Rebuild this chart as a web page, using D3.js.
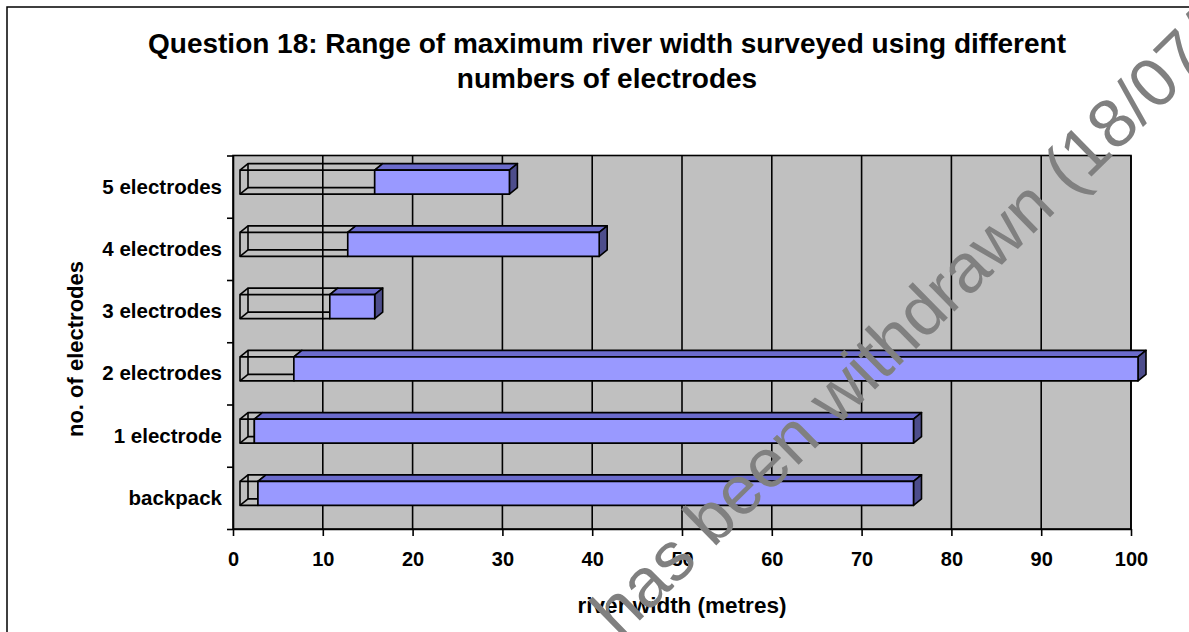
<!DOCTYPE HTML>
<html>
<head>
    <title>Question 18</title>
    <script type="text/javascript" src="https://cdn.jsdelivr.net/npm/d3@7"></script>
    <style>
        body { margin: 0; background-color: white; }
        .paint-board { background-color: white; }
        text { font-family: "Liberation Sans", Arial, sans-serif; font-weight: bold; fill: black; }
    </style>
</head>

<body>
    <div id="panel"></div>

    <script>
        // data
        var categories = ["5 electrodes", "4 electrodes", "3 electrodes", "2 electrodes", "1 electrode", "backpack"];
        var min_width = [15, 12, 10, 6, 1.6, 2];
        var max_width = [30, 40, 15, 100, 75, 75];
        var x_ticks = [0, 10, 20, 30, 40, 50, 60, 70, 80, 90, 100];
        var title_lines = ["Question 18: Range of maximum river width surveyed using different", "numbers of electrodes"];
        var x_title = "river width (metres)";
        var y_title = "no. of electrodes";
        var watermark = "has been withdrawn (18/07/";

        var width = 1189, height = 632;
        var depth_x = 8, depth_y = 6.5, front_shift = 7;
        var line_w = 1.6;

        var svgContainer = d3.select("#panel").append("svg")
                                                .attr("width", width)
                                                .attr("height", height)
                                                .attr("class", "paint-board");

        var x = d3.scaleLinear().domain([0, 100]).range([233, 1131]);
        var y = d3.scaleBand().domain(categories).range([155.5, 529]).padding(0);
        var y_edges = d3.scaleLinear().domain([0, categories.length]).range([529, 155.5]);

        function add_attributes(obj, attributes)
        {
            for(var key in attributes)
            {
                if(attributes.hasOwnProperty(key))
                    obj.attr(key, attributes[key]);
            }
        }

        // chart border
        svgContainer.append("rect")
                    .attr("x", 7).attr("y", 7)
                    .attr("width", 1300).attr("height", 800)
                    .attr("fill", "white").attr("stroke", "black").attr("stroke-width", 1.5);

        // title
        svgContainer.selectAll(".title").data(title_lines).enter()
                    .append("text")
                    .attr("class", "title")
                    .attr("x", 607)
                    .attr("y", function(d, i){ return 53 + i * 35; })
                    .attr("text-anchor", "middle")
                    .style("font-size", "28px")
                    .text(function(d){ return d; });

        // back wall
        svgContainer.append("rect")
                    .attr("x", x(0)).attr("y", y_edges(categories.length))
                    .attr("width", x(100) - x(0)).attr("height", y_edges(0) - y_edges(categories.length))
                    .attr("fill", "#c0c0c0").attr("stroke", "black").attr("stroke-width", line_w);

        // vertical gridlines
        svgContainer.selectAll(".grid").data(x_ticks.slice(1)).enter()
                    .append("line")
                    .attr("class", "grid")
                    .attr("x1", function(d){ return x(d); })
                    .attr("x2", function(d){ return x(d); })
                    .attr("y1", y_edges(categories.length))
                    .attr("y2", y_edges(0))
                    .attr("stroke", "black").attr("stroke-width", line_w);

        function draw_bar(i)
        {
            var c = y(categories[i]) + y.bandwidth() / 2;
            var top = c - 16.5, bottom = c + 7.5;
            var x0 = x(0) + front_shift;
            var x1 = x(min_width[i]) + front_shift;
            var x2 = x(max_width[i]) + front_shift;
            var g = svgContainer.append("g");
            var stroke = {"stroke": "black", "stroke-width": line_w, "stroke-linejoin": "round"};

            // empty box for the part below the minimum
            var box = g.append("g");
            add_attributes(box.append("rect").attr("x", x0 + depth_x).attr("y", top - depth_y)
                            .attr("width", x1 - x0).attr("height", bottom - top).attr("fill", "none"), stroke);
            add_attributes(box.append("rect").attr("x", x0).attr("y", top)
                            .attr("width", x1 - x0).attr("height", bottom - top).attr("fill", "none"), stroke);
            [[x0, top], [x1, top], [x0, bottom], [x1, bottom]].forEach(function(p){
                add_attributes(box.append("line").attr("x1", p[0]).attr("y1", p[1])
                                .attr("x2", p[0] + depth_x).attr("y2", p[1] - depth_y), stroke);
            });

            // coloured part from minimum to maximum
            add_attributes(g.append("polygon")
                .attr("points", [[x1, top], [x2, top], [x2 + depth_x, top - depth_y], [x1 + depth_x, top - depth_y]].join(" "))
                .attr("fill", "#6b6bcc"), stroke);
            add_attributes(g.append("polygon")
                .attr("points", [[x2, top], [x2 + depth_x, top - depth_y], [x2 + depth_x, bottom - depth_y], [x2, bottom]].join(" "))
                .attr("fill", "#4d4d8c"), stroke);
            add_attributes(g.append("rect").attr("x", x1).attr("y", top)
                .attr("width", x2 - x1).attr("height", bottom - top)
                .attr("fill", "#9999ff"), stroke);
        }

        for(var i = 0; i < categories.length; ++i)
            draw_bar(i);

        // x axis
        var x_axis = svgContainer.append("g")
                    .attr("transform", "translate(0," + y_edges(0) + ")")
                    .call(d3.axisBottom(x).tickValues(x_ticks).tickSize(7).tickSizeOuter(0));
        x_axis.select(".domain").attr("stroke", "black").attr("stroke-width", line_w);
        x_axis.selectAll(".tick line").attr("stroke", "black").attr("stroke-width", line_w);
        x_axis.selectAll(".tick text")
              .attr("y", 37).attr("dy", 0)
              .style("font-size", "20px")
              .style("font-family", "'Liberation Sans', Arial, sans-serif")
              .style("font-weight", "bold")
              .attr("fill", "black");

        // y axis: ticks between categories
        var y_axis = svgContainer.append("g")
                    .attr("transform", "translate(" + x(0) + ",0)")
                    .call(d3.axisLeft(y_edges).ticks(categories.length).tickSize(6).tickSizeOuter(0).tickFormat(""));
        y_axis.select(".domain").attr("stroke", "black").attr("stroke-width", line_w);
        y_axis.selectAll(".tick line").attr("stroke", "black").attr("stroke-width", line_w);

        svgContainer.selectAll(".cat").data(categories).enter()
                    .append("text")
                    .attr("class", "cat")
                    .attr("x", 222)
                    .attr("y", function(d){ return y(d) + y.bandwidth() / 2 + 7; })
                    .attr("text-anchor", "end")
                    .style("font-size", "20.5px")
                    .text(function(d){ return d; });

        // axis titles
        svgContainer.append("text")
                    .attr("x", x(50)).attr("y", 613)
                    .attr("text-anchor", "middle")
                    .style("font-size", "22.5px")
                    .text(x_title);
        svgContainer.append("text")
                    .attr("transform", "translate(83,349) rotate(-90)")
                    .attr("text-anchor", "middle")
                    .style("font-size", "22px")
                    .text(y_title);

        // watermark
        svgContainer.append("text")
                    .attr("transform", "translate(620,640) rotate(-44.5)")
                    .style("font-size", "69px")
                    .style("font-weight", "normal")
                    .style("fill", "#808080")
                    .text(watermark);
    </script>
</body>
</html>
